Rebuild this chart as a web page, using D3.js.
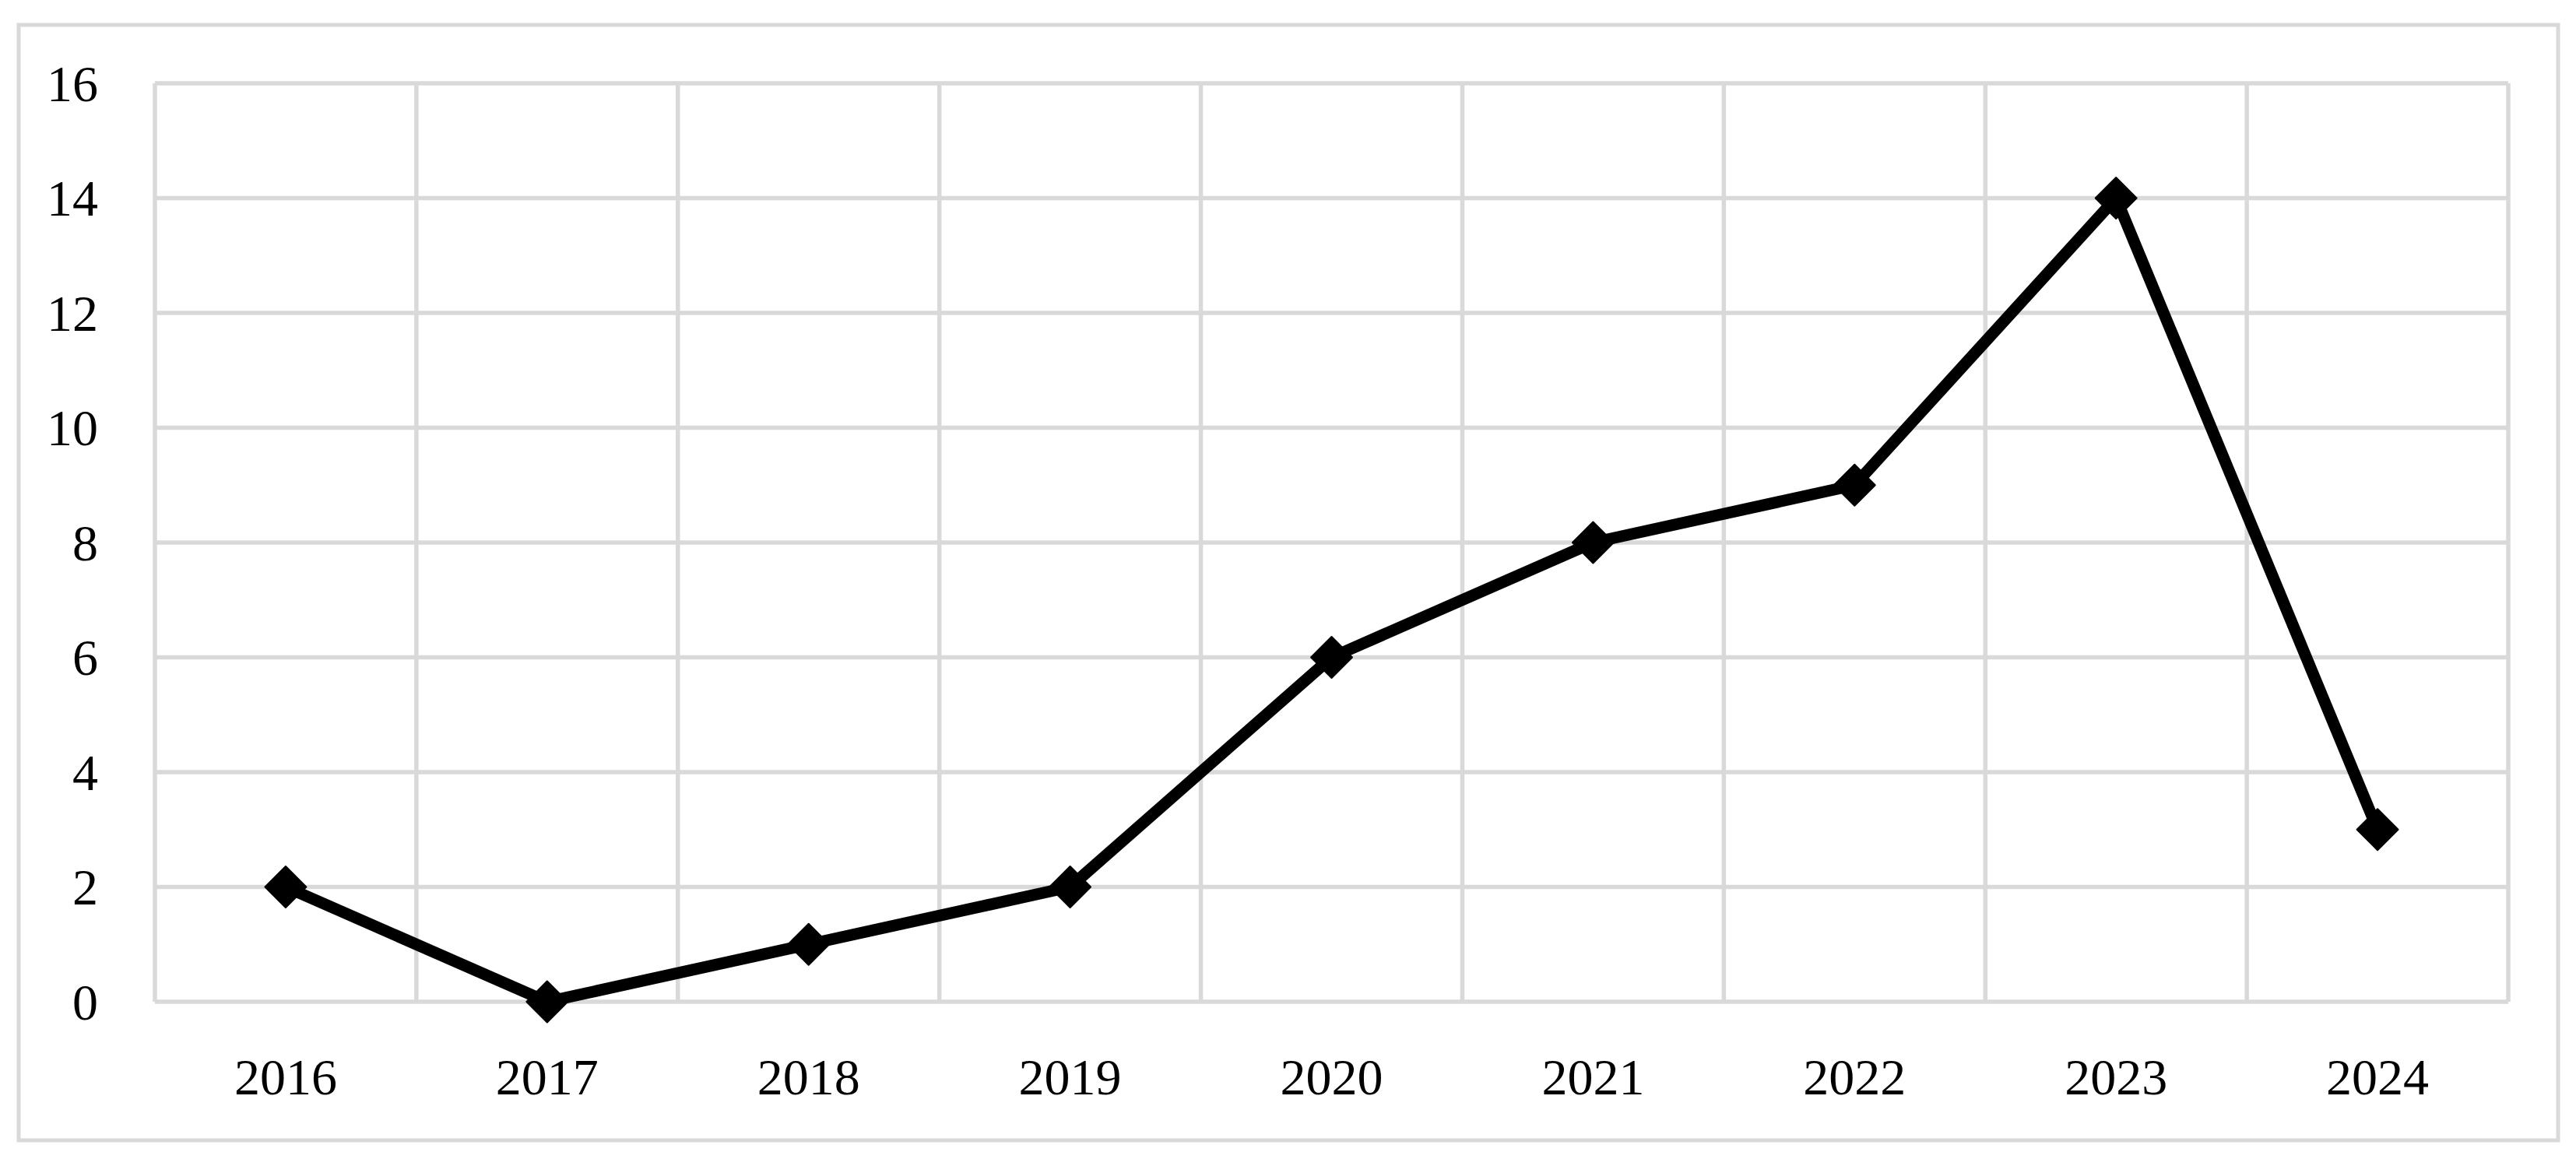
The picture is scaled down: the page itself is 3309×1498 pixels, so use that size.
<!DOCTYPE html>
<html>
<head>
<meta charset="utf-8">
<script src="https://cdn.jsdelivr.net/npm/d3@7"></script>
<style>
  html, body { margin: 0; padding: 0; background: #fff; }
  svg text { font-family: "Liberation Serif", "DejaVu Serif", serif; fill: #000; }
</style>
</head>
<body>
<div id="chart"></div>
<script>
const years = ["2016", "2017", "2018", "2019", "2020", "2021", "2022", "2023", "2024"];
const counts = [2, 0, 1, 2, 6, 8, 9, 14, 3];
const yTicks = [0, 2, 4, 6, 8, 10, 12, 14, 16];

const width = 3309;
const height = 1498;
const GRID = "#d9d9d9";

const svg = d3.select("#chart").append("svg")
    .attr("width", width)
    .attr("height", height)
    .attr("viewBox", `0 0 ${width} ${height}`);

// marco exterior
svg.append("rect")
    .attr("x", 24).attr("y", 32)
    .attr("width", 3286 - 24).attr("height", 1465 - 32)
    .attr("fill", "none").attr("stroke", GRID).attr("stroke-width", 5);

const x = d3.scaleBand().domain(years).range([199, 3222]).padding(0);
const y = d3.scaleLinear().domain([0, 16]).range([1287, 107]);

// rejilla horizontal
svg.append("g").selectAll("line").data(yTicks).enter().append("line")
    .attr("x1", x.range()[0]).attr("x2", x.range()[1])
    .attr("y1", d => y(d)).attr("y2", d => y(d))
    .attr("stroke", GRID).attr("stroke-width", 5.5);

// rejilla vertical (bordes de cada categoría)
const bordes = years.map(d => x(d)).concat([x.range()[1]]);
svg.append("g").selectAll("line").data(bordes).enter().append("line")
    .attr("x1", d => d).attr("x2", d => d)
    .attr("y1", y(16)).attr("y2", y(0))
    .attr("stroke", GRID).attr("stroke-width", 5.5);

// eje Y
const gy = svg.append("g")
    .attr("transform", `translate(${x.range()[0]},0)`)
    .call(d3.axisLeft(y).tickValues(yTicks).tickSize(0).tickPadding(73));
gy.select(".domain").remove();
gy.selectAll("text").style("font-size", "66px").attr("dy", "0.34em");

// eje X
const gx = svg.append("g")
    .attr("transform", `translate(0,${y(0)})`)
    .call(d3.axisBottom(x).tickSize(0).tickPadding(119));
gx.select(".domain").remove();
gx.selectAll("text").style("font-size", "66px").attr("dy", "0");

// línea
const line = d3.line()
    .x((d, i) => x(years[i]) + x.bandwidth() / 2)
    .y(d => y(d));

svg.append("path")
    .datum(counts)
    .attr("d", line)
    .attr("fill", "none")
    .attr("stroke", "#000")
    .attr("stroke-width", 15)
    .attr("stroke-linejoin", "round");

// marcadores rombo
const rombo = d3.symbol().type(d3.symbolSquare).size(1400);
svg.append("g").selectAll("path").data(counts).enter().append("path")
    .attr("d", rombo)
    .attr("transform", (d, i) => `translate(${x(years[i]) + x.bandwidth() / 2},${y(d)}) rotate(45)`)
    .attr("fill", "#000")
    .attr("stroke", "#000")
    .attr("stroke-width", 2)
    .attr("stroke-linejoin", "round");
</script>
</body>
</html>
